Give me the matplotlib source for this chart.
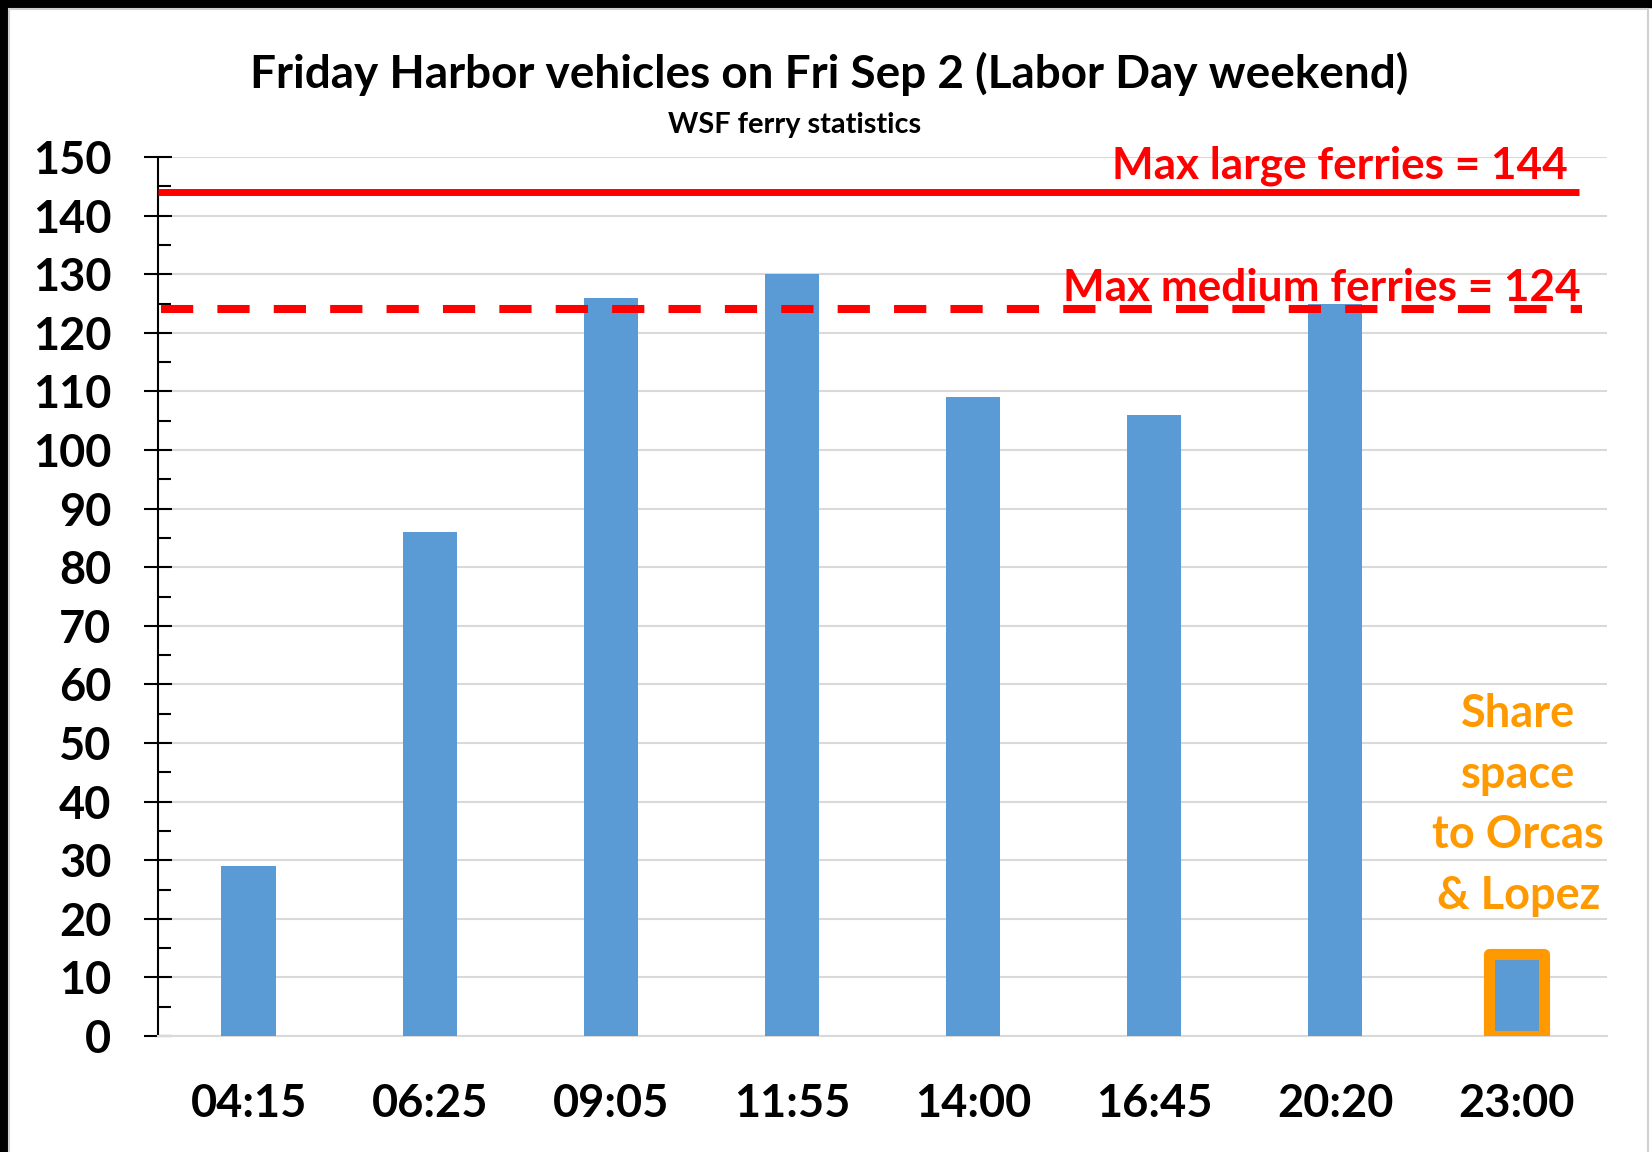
import matplotlib.pyplot as plt
from matplotlib.patches import Rectangle

# Friday Harbor sailings, vehicles per sailing
times = ['04:15', '06:25', '09:05', '11:55', '14:00', '16:45', '20:20', '23:00']
vehicles = [29, 86, 126, 130, 109, 106, 125, 14]
max_large = 144
max_medium = 124
highlight = '23:00'
share_note = ['Share', 'space', 'to Orcas', '& Lopez']
yticks = list(range(0, 151, 10))
yminor = list(range(5, 150, 10))

blue = '#5B9BD5'
red = '#FF0000'
orange = '#FF9900'
grid_gray = '#D9D9D9'

plt.rcParams['font.family'] = ['Lato', 'DejaVu Sans']
plt.rcParams['font.weight'] = 'bold'

W, H = 1652, 1152
fig = plt.figure(figsize=(W / 100, H / 100), dpi=100)
fig.patch.set_facecolor('white')

# screenshot frame: black strips top/left, light chart border
fig.patches.append(Rectangle((0, 1 - 7 / H), 1, 7 / H, transform=fig.transFigure,
                             color='black', zorder=0))
fig.patches.append(Rectangle((0, 0), 7 / W, 1, transform=fig.transFigure,
                             color='black', zorder=0))
fig.patches.append(Rectangle((9 / W, -0.01), (1648 - 9) / W, 1 - 9 / H + 0.01,
                             transform=fig.transFigure, fill=False,
                             edgecolor='#D0D0D0', lw=1.5, zorder=0))

ax = fig.add_axes([158 / W, 1 - 1036 / H, (1607 - 158) / W, (1036 - 157) / H])

x = list(range(len(times)))
edgecolors = [orange if t == highlight else 'none' for t in times]
edgewidths = [8 if t == highlight else 0 for t in times]
ax.bar(x, vehicles, width=0.3, color=blue, edgecolor=edgecolors,
       linewidth=edgewidths, joinstyle='round', zorder=3)

# capacity lines
ax.axhline(max_large, xmin=0, xmax=0.981, color=red, lw=5, zorder=4,
           solid_capstyle='butt')
ax.axhline(max_medium, xmin=0.002, xmax=0.983, color=red, lw=5.8, zorder=4,
           linestyle=(0, (4, 3)), dash_capstyle='butt')

ax.text(0.973, max_large + 2.3, f'Max large ferries = {max_large}',
        transform=ax.get_yaxis_transform(), ha='right', va='baseline',
        color=red, fontsize=31.8, zorder=5)
ax.text(0.982, max_medium + 1.4, f'Max medium ferries = {max_medium}',
        transform=ax.get_yaxis_transform(), ha='right', va='baseline',
        color=red, fontsize=31.8, zorder=5)

# note over the last sailing
hx = times.index(highlight)
for i, line in enumerate(share_note):
    ax.text(hx + 0.01, 52.8 - i * 10.4, line, ha='center', va='baseline',
            color=orange, fontsize=32.5, zorder=5)

ax.set_xlim(-0.5, len(times) - 0.5)
ax.set_ylim(0, 150)
ax.set_xticks(x)
ax.set_xticklabels(times)
ax.set_yticks(yticks)
ax.set_yticks(yminor, minor=True)

ax.yaxis.grid(True, color=grid_gray, lw=1.5)
ax.set_axisbelow(True)

ax.tick_params(axis='y', which='major', direction='inout', length=20, width=1.5,
               pad=23.5, labelsize=32.5)
ax.tick_params(axis='y', which='minor', direction='in', length=9.5, width=1.5)
ax.tick_params(axis='x', length=0, pad=34, labelsize=32.5)

for s in ['top', 'right']:
    ax.spines[s].set_visible(False)
ax.spines['bottom'].set_color(grid_gray)
ax.spines['bottom'].set_linewidth(1.5)
ax.spines['left'].set_linewidth(1.5)

fig.text(829 / W, 1 - 88 / H, 'Friday Harbor vehicles on Fri Sep 2 (Labor Day weekend)',
         ha='center', va='baseline', fontsize=33)
fig.text(795 / W, 1 - 133 / H, 'WSF ferry statistics',
         ha='center', va='baseline', fontsize=20.8)

fig.savefig('out.png', dpi=100)
